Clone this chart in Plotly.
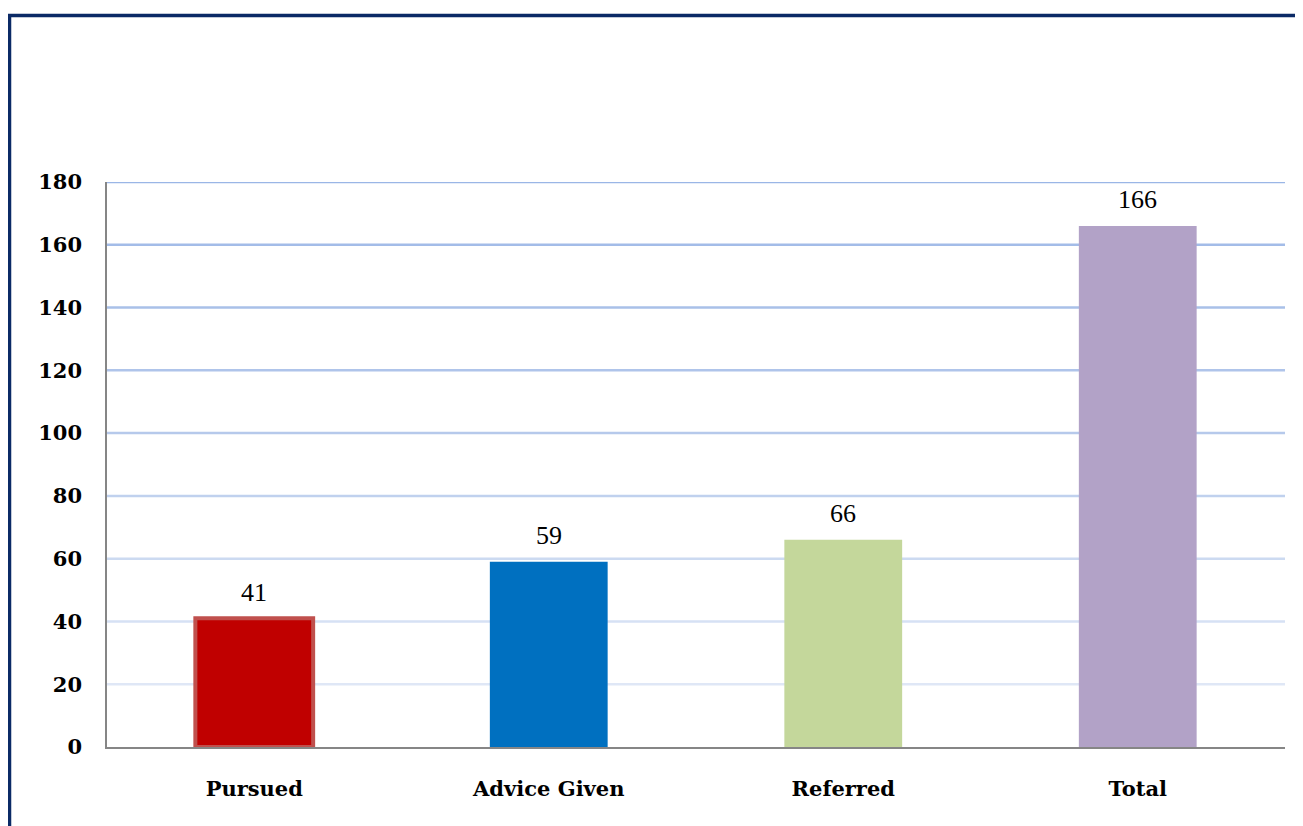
import plotly.graph_objects as go

categories = ["Pursued", "Advice Given", "Referred", "Total"]
values = [41, 59, 66, 166]
bar_colors = ["#C00000", "#0070C0", "#C4D79B", "#B2A2C7"]
outline_colors = ["#C0504D", "#0070C0", "#C4D79B", "#B2A2C7"]
outline_widths = [4, 0, 0, 0]
tick_vals = [0, 20, 40, 60, 80, 100, 120, 140, 160, 180]
grid_colors = ["#dfe7f6", "#d6e1f4", "#ccdaf1", "#c0d1ee", "#b6c9eb", "#afc4ea",
               "#a9c0e8", "#a3bce8", "#9ab6e6"]

# the page has an 8px body margin, so figure coordinates are offset by 8px
OFF = 8
W, H = 1303 - OFF, 826 - OFF
ml, mr, mt, mb = 107 - OFF, 18, 182 - OFF, 79
pw, ph = W - ml - mr, H - mt - mb

fig = go.Figure()
fig.add_trace(go.Bar(
    x=categories, y=values,
    marker=dict(color=bar_colors, line=dict(color=outline_colors, width=outline_widths)),
    width=0.4,
    hoverinfo="x+y",
))

# data labels above bars
for c, v in zip(categories, values):
    fig.add_annotation(x=c, y=v, text=str(v), showarrow=False, yanchor="middle",
                       yshift=26, font=dict(family="Liberation Serif, serif", size=26,
                                            color="#000000"))

# gradient-coloured gridlines
for v, c in zip(tick_vals[1:], grid_colors):
    fig.add_shape(type="line", xref="paper", yref="y", x0=0, x1=1, y0=v, y1=v,
                  line=dict(color=c, width=2.5), layer="below")

# navy frame (top and left)
def px_x(p):
    return (p - OFF - ml) / pw
def px_y(p):
    return (H - mb - (p - OFF)) / ph

navy = "#0B2A66"
fig.add_shape(type="line", xref="paper", yref="paper",
              x0=px_x(8), x1=px_x(1310), y0=px_y(15.5), y1=px_y(15.5),
              line=dict(color=navy, width=3.5))
fig.add_shape(type="line", xref="paper", yref="paper",
              x0=px_x(9.5), x1=px_x(9.5), y0=px_y(14), y1=px_y(830),
              line=dict(color=navy, width=3.5))

fig.update_layout(
    width=W, height=H,
    margin=dict(l=ml, r=mr, t=mt, b=mb),
    plot_bgcolor="white", paper_bgcolor="white",
    showlegend=False,
    bargap=0.6,
    font=dict(family="Liberation Serif, DejaVu Serif, serif", color="#000000"),
    xaxis=dict(
        showgrid=False, showline=True, linecolor="#868686", linewidth=2,
        ticks="", tickfont=dict(size=21, family="DejaVu Serif, serif", weight="bold"),
        ticklabelstandoff=22,
    ),
    yaxis=dict(
        range=[0, 180], tickvals=tick_vals, showgrid=False,
        showline=True, linecolor="#868686", linewidth=1.5,
        ticks="", zeroline=False,
        tickfont=dict(size=21, family="DejaVu Serif, serif", weight="bold"),
        ticklabelstandoff=19,
    ),
)

fig.write_html("out.html")
